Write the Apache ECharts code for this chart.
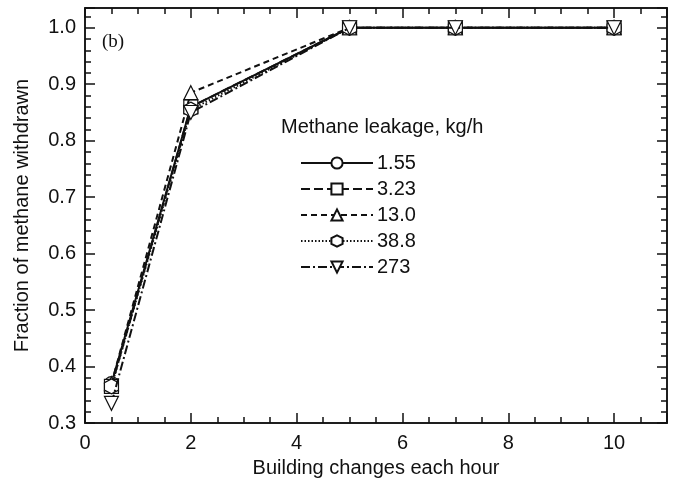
<!DOCTYPE html>
<html>
<head>
<meta charset="utf-8">
<script src="https://cdn.jsdelivr.net/npm/echarts@6/dist/echarts.min.js"></script>
<style>
  html, body { margin: 0; padding: 0; background: #fff; }
  #main { width: 680px; height: 483px; }
</style>
</head>
<body>
<div id="main"></div>
<script>
// building changes per hour
var airChanges = [0.5, 2, 5, 7, 10];
// leakage rates (legend labels)
var leakNames = ['1.55', '3.23', '13.0', '38.8', '273'];
// fraction of methane withdrawn, one array per leakage rate
var frac155 = [0.37, 0.86, 1.0, 1.0, 1.0];
var frac323 = [0.365, 0.86, 1.0, 1.0, 1.0];
var frac130 = [0.37, 0.885, 1.0, 1.0, 1.0];
var frac388 = [0.365, 0.855, 1.0, 1.0, 1.0];
var frac273 = [0.335, 0.85, 1.0, 1.0, 1.0];

var allFrac = [frac155, frac323, frac130, frac388, frac273];
var symbols = [
    'circle',
    'rect',
    'triangle',
    'path://M0,-1 L0.866,-0.5 L0.866,0.5 L0,1 L-0.866,0.5 L-0.866,-0.5 Z',
    'path://M0,0 L2,0 L1,1.732 Z'
];
var dashes = ['solid', [9, 4], [6, 4], [1.5, 2], [9, 3, 2, 3]];

var myChart = echarts.init(document.getElementById('main'));

var font = 'Liberation Sans, Arial, sans-serif';
var lineCol = '#111';

function xAxisCfg(pos, interval, len, labels) {
    return {
        type: 'value', position: pos, min: 0, max: 11, interval: interval,
        axisLine: { show: true, onZero: false, lineStyle: { color: lineCol, width: 1.5 } },
        axisTick: { show: true, inside: true, length: len, lineStyle: { color: lineCol, width: 1.5 } },
        axisLabel: {
            show: labels, color: '#111', fontSize: 20, fontFamily: font, margin: 10,
            formatter: function (v) { return v % 2 === 0 && v <= 10 ? String(v) : ''; }
        },
        splitLine: { show: false },
        name: labels ? 'Building changes each hour' : '',
        nameLocation: 'middle', nameGap: 33,
        nameTextStyle: { color: '#111', fontSize: 20, fontFamily: font }
    };
}
function yAxisCfg(pos, interval, len, labels) {
    return {
        type: 'value', position: pos, min: 0.3, max: 1.035, interval: interval,
        axisLine: { show: true, onZero: false, lineStyle: { color: lineCol, width: 1.5 } },
        axisTick: { show: true, inside: true, length: len, lineStyle: { color: lineCol, width: 1.5 } },
        axisLabel: {
            show: labels, color: '#111', fontSize: 20, fontFamily: font, margin: 9,
            formatter: function (v) { return v <= 1.0001 ? v.toFixed(1) : ''; }
        },
        splitLine: { show: false },
        name: labels ? 'Fraction of methane withdrawn' : '',
        nameLocation: 'middle', nameGap: 53,
        nameTextStyle: { color: '#111', fontSize: 20, fontFamily: font }
    };
}

var series = allFrac.map(function (vals, i) {
    return {
        name: leakNames[i],
        type: 'line',
        xAxisIndex: 0,
        yAxisIndex: 0,
        data: airChanges.map(function (x, j) { return [x, vals[j]]; }),
        symbol: symbols[i],
        symbolSize: i === 3 ? [14, 15] : 14,
        showAllSymbol: true,
        lineStyle: { color: lineCol, width: 2, type: dashes[i] },
        itemStyle: { color: '#fff', borderColor: lineCol, borderWidth: 1.2 },
        emphasis: { disabled: true },
        z: 2 + i
    };
});

option = {
    backgroundColor: '#fff',
    animation: false,
    grid: { left: 85, right: 13, top: 8, bottom: 59 },
    xAxis: [
        xAxisCfg('bottom', 2, 10, true),
        xAxisCfg('bottom', 0.5, 6, false),
        xAxisCfg('top', 2, 10, false),
        xAxisCfg('top', 0.5, 6, false)
    ],
    yAxis: [
        yAxisCfg('left', 0.1, 10, true),
        yAxisCfg('left', 0.02, 6, false),
        yAxisCfg('right', 0.1, 10, false),
        yAxisCfg('right', 0.02, 6, false)
    ],
    legend: {
        data: leakNames,
        orient: 'vertical',
        left: 295,
        top: 148,
        itemWidth: 72,
        itemHeight: 14,
        itemGap: 6,
        textStyle: { color: '#111', fontSize: 20, fontFamily: font, padding: [0, 0, 0, -1] },
        selectedMode: false
    },
    graphic: [
        {
            type: 'text', left: 281, top: 117,
            style: { text: 'Methane leakage, kg/h', fill: '#111', fontSize: 20, fontFamily: font }
        },
        {
            type: 'text', left: 102, top: 33,
            style: { text: '(b)', fill: '#111', fontSize: 19, fontFamily: 'Liberation Serif, serif' }
        }
    ],
    series: series
};
myChart.setOption(option, true);
</script>
</body>
</html>
